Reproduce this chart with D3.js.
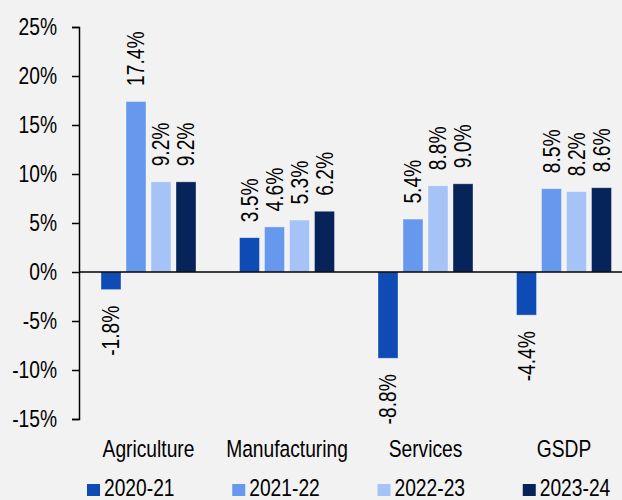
<!DOCTYPE html>
<html>
<head>
<meta charset="utf-8">
<script src="https://cdn.jsdelivr.net/npm/d3@7"></script>
<style>
  html, body { margin: 0; padding: 0; background: #f2f2f2; }
  svg text { font-family: 'Liberation Sans', Arial, sans-serif; fill: #000; }
</style>
</head>
<body>
<div class="graph"></div>
<script>
/* data */
const categories = ['Agriculture', 'Manufacturing', 'Services', 'GSDP'];
const seriesNames = ['2020-21', '2021-22', '2022-23', '2023-24'];
const values2020 = [-1.8, 3.5, -8.8, -4.4];
const values2021 = [17.4, 4.6, 5.4, 8.5];
const values2022 = [9.2, 5.3, 8.8, 8.2];
const values2023 = [9.2, 6.2, 9.0, 8.6];
const yTicks = [-15, -10, -5, 0, 5, 10, 15, 20, 25];

const seriesColors = ['#0f4bb4', '#6699ee', '#a6c3f7', '#06235a'];

/* layout */
const width = 622;
const height = 500;
const fontSize = 23.3;
const narrow = 0.825; // the original font is a narrow face, squeeze it

const allValues = [values2020, values2021, values2022, values2023];
// flat rows for the bars
const rows = [];
categories.forEach((c, ci) => {
  seriesNames.forEach((s, si) => {
    rows.push({ category: c, series: s, value: allValues[si][ci] });
  });
});

const svg = d3.select('.graph')
  .append('svg')
  .attr('width', width)
  .attr('height', height);

// x scales: groups and bars inside a group
const x0 = d3.scaleBand()
  .domain(categories)
  .range([79.25, 633.25])
  .paddingInner(0.278)
  .paddingOuter(0.139);

const x1 = d3.scaleBand()
  .domain(seriesNames)
  .range([0, x0.bandwidth()])
  .paddingInner(0.2)
  .paddingOuter(0.1);

const y = d3.scaleLinear()
  .domain([-15, 25])
  .range([419, 27]);

const color = d3.scaleOrdinal(seriesNames, seriesColors);

// bars
svg.append('g')
  .selectAll('rect')
  .data(rows)
  .join('rect')
    .attr('x', d => x0(d.category) + x1(d.series))
    .attr('width', x1.bandwidth())
    .attr('y', d => y(Math.max(0, d.value)))
    .attr('height', d => Math.abs(y(d.value) - y(0)))
    .attr('fill', d => color(d.series))
    .attr('stroke', 'rgba(255,255,255,0.45)')
    .attr('stroke-width', 0.8);

// value labels, rotated
svg.append('g')
  .selectAll('text')
  .data(rows)
  .join('text')
    .attr('transform', d => {
      const cx = x0(d.category) + x1(d.series) + x1.bandwidth() / 2;
      const cy = d.value >= 0 ? y(d.value) - 15.5 : y(d.value) + 16;
      return `translate(${cx},${cy}) rotate(-90) scale(${narrow},1)`;
    })
    .attr('dy', '0.36em')
    .attr('text-anchor', d => d.value >= 0 ? 'start' : 'end')
    .style('font-size', fontSize + 'px')
    .text(d => `${d.value.toFixed(1)}%`);

// y axis
const yAxis = d3.axisLeft(y)
  .tickValues(yTicks)
  .tickSize(7)
  .tickPadding(0)
  .tickFormat(d => `${d}%`);

const yAxisG = svg.append('g')
  .attr('transform', 'translate(79,0)')
  .call(yAxis);
yAxisG.attr('font-family', null).attr('font-size', null);
yAxisG.select('.domain').attr('stroke', '#000').attr('stroke-width', 1.5);
yAxisG.selectAll('.tick line').attr('stroke', '#000').attr('stroke-width', 1.5);
yAxisG.selectAll('.tick text')
  .attr('x', null)
  .attr('transform', `translate(-22,0) scale(${narrow},1)`)
  .style('font-size', fontSize + 'px')
  .attr('fill', '#000');

// zero line
svg.append('line')
  .attr('x1', 79)
  .attr('x2', width)
  .attr('y1', y(0))
  .attr('y2', y(0))
  .attr('stroke', '#000')
  .attr('stroke-width', 1.5);

// category labels
svg.append('g')
  .selectAll('text')
  .data(categories)
  .join('text')
    .attr('transform', d => `translate(${x0(d) + x0.bandwidth() / 2},457) scale(${narrow},1)`)
    .attr('text-anchor', 'middle')
    .style('font-size', fontSize + 'px')
    .text(d => d);

// legend
const legendX = d3.scaleBand()
  .domain(seriesNames)
  .range([87, 668]);

const legend = svg.append('g')
  .selectAll('g')
  .data(seriesNames)
  .join('g')
    .attr('transform', d => `translate(${legendX(d)},484)`);

legend.append('rect')
  .attr('width', 13)
  .attr('height', 12)
  .attr('fill', d => color(d));

legend.append('text')
  .attr('transform', `translate(17,12) scale(${narrow},1)`)
  .style('font-size', fontSize + 'px')
  .text(d => d);
</script>
</body>
</html>
